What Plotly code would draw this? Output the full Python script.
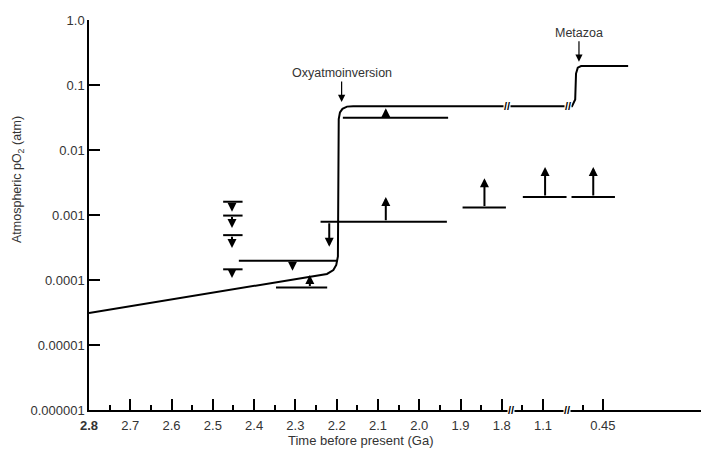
import numpy as np
import plotly.graph_objects as go

# ---------------- data ----------------
# broken time axis: anchor ages (Ga) and their axis positions
axis_anchor_ga = [2.8, 1.8, 1.1, 0.45, 0.0]
axis_anchor_pos = [0.0, 10.0, 11.0, 12.45, 15.02]

tick_ga = [2.8, 2.7, 2.6, 2.5, 2.4, 2.3, 2.2, 2.1, 2.0, 1.9, 1.8, 1.1, 0.45]
tick_text = ["<b>2.8</b>", "2.7", "2.6", "2.5", "2.4", "2.3", "2.2", "2.1", "2.0", "1.9", "1.8", "1.1", "0.45"]
minor_ga = [2.75, 2.65, 2.55, 2.45, 2.35, 2.25, 2.15, 2.05, 1.95, 1.85, 1.45, 0.67]

y_tickvals = [1.0, 0.1, 0.01, 0.001, 0.0001, 0.00001, 0.000001]
y_ticktext = ["1.0", "0.1", "0.01", "0.001", "0.0001", "0.00001", "0.000001"]

# main atmospheric O2 curve
curve_ga = [2.80, 2.2235, 2.208, 2.201, 2.197, 2.196, 2.195, 2.192, 2.186, 2.175, 2.16,
            0.786, 0.751, 0.742, 0.723, 0.687, 0.343]
curve_po2 = [3.1e-5, 1.24e-4, 1.42e-4, 1.7e-4, 2.3e-4, 1e-3, 0.03, 0.038, 0.043, 0.0465, 0.047,
             0.047, 0.06, 0.15, 0.185, 0.196, 0.196]

# constraint bars
seg_start = [2.475, 2.475, 2.475, 2.475, 2.437, 2.347, 2.239, 2.185, 1.895, 1.443, 0.791]
seg_end = [2.428, 2.428, 2.428, 2.428, 2.197, 2.223, 1.933, 1.930, 1.73, 0.845, 0.399]
seg_po2 = [1.6e-3, 9.8e-4, 4.9e-4, 1.46e-4, 1.98e-4, 7.7e-5, 7.9e-4, 0.0314, 1.3e-3, 1.9e-3, 1.9e-3]

# limit arrows (from bar value to tip value)
arrow_ga = [2.4536, 2.4536, 2.4536, 2.4536, 2.307, 2.218, 2.265, 2.081, 2.081, 1.842, 1.078, 0.555]
arrow_from = [1.6e-3, 9.8e-4, 4.9e-4, 1.46e-4, 1.98e-4, 7.9e-4, 7.7e-5, 7.9e-4, 0.0314, 1.3e-3, 1.9e-3, 1.9e-3]
arrow_to = [1.12e-3, 6.3e-4, 3.1e-4, 1.07e-4, 1.39e-4, 3.25e-4, 1.19e-4, 1.9e-3, 0.044, 3.67e-3, 5.5e-3, 5.5e-3]

# event labels
event_text = ["Oxyatmoinversion", "Metazoa"]
event_ga = [2.188, 0.71]
event_po2 = [0.055, 0.228]

# break marks (Ga)
curve_break_ga = [1.709, 0.831]
axis_break_ga = [1.646, 0.84]


def pos(ga):
    ga = np.atleast_1d(np.asarray(ga, float))
    return np.interp(-ga, [-g for g in axis_anchor_ga], axis_anchor_pos)


FONT = "Liberation Sans, Arial, sans-serif"
TXT = "#333333"

fig = go.Figure()

# constraint bars
sx, sy = [], []
for a, b, v in zip(seg_start, seg_end, seg_po2):
    sx += [float(pos(a)[0]), float(pos(b)[0]), None]
    sy += [v, v, None]
fig.add_trace(go.Scatter(x=sx, y=sy, mode="lines", line=dict(color="black", width=2),
                         hoverinfo="skip", showlegend=False))

# curve
fig.add_trace(go.Scatter(x=pos(curve_ga), y=curve_po2, mode="lines",
                         line=dict(color="black", width=2), showlegend=False))

annotations = []
for g, f, t in zip(arrow_ga, arrow_from, arrow_to):
    p = float(pos(g)[0])
    annotations.append(dict(x=p, y=np.log10(t), ax=p, ay=np.log10(f), xref="x", yref="y",
                            axref="x", ayref="y", text="", showarrow=True, arrowhead=2,
                            arrowsize=0.9, arrowwidth=2, arrowcolor="black"))

for txt, g, v in zip(event_text, event_ga, event_po2):
    annotations.append(dict(x=float(pos(g)[0]), y=np.log10(v), xref="x", yref="y", text=txt,
                            showarrow=True, arrowhead=2, arrowsize=1.2, arrowwidth=1.2,
                            arrowcolor="black", ax=0, ay=-29,
                            font=dict(family=FONT, size=12.5, color=TXT)))

for g in curve_break_ga:
    annotations.append(dict(x=float(pos(g)[0]), y=np.log10(0.047), xref="x", yref="y",
                            text="<b>//</b>", showarrow=False, bgcolor="white", borderpad=0,
                            font=dict(family=FONT, size=11, color="black")))
for g in axis_break_ga:
    annotations.append(dict(x=float(pos(g)[0]), y=-6, xref="x", yref="y",
                            text="<b>//</b>", showarrow=False, bgcolor="white", borderpad=0,
                            font=dict(family=FONT, size=11, color="black")))

annotations.append(dict(x=(360 - 89) / 620, y=-(440 - 410) / 390, xref="paper", yref="paper",
                        xanchor="center", yanchor="middle",
                        text="Time before present (Ga)", showarrow=False,
                        font=dict(family=FONT, size=13, color=TXT)))
annotations.append(dict(x=(18 - 89) / 620, y=(410 - 180) / 390, xref="paper", yref="paper",
                        xanchor="center", yanchor="middle",
                        text="Atmospheric pO<sub>2</sub> (atm)", showarrow=False, textangle=-90,
                        font=dict(family=FONT, size=12.5, color=TXT)))

# the page body adds an 8px offset, so the figure is sized/margined to compensate
fig.update_layout(
    width=701, height=447,
    margin=dict(l=81, r=0, t=12, b=45),
    paper_bgcolor="white", plot_bgcolor="white",
    showlegend=False,
    annotations=annotations,
    xaxis=dict(range=[0, 15.02], automargin=False, showgrid=False, zeroline=False, showline=True,
               linecolor="black", linewidth=1.5, ticks="inside", ticklen=11, tickwidth=1.5,
               tickcolor="black", tickvals=list(pos(tick_ga)), ticktext=tick_text,
               tickfont=dict(family=FONT, size=13, color=TXT), ticklabelstandoff=3,
               minor=dict(tickvals=list(pos(minor_ga)), ticks="inside", ticklen=5,
                          tickwidth=1.5, tickcolor="black", showgrid=False)),
    yaxis=dict(type="log", range=[-6, 0], automargin=False, showgrid=False, zeroline=False,
               showline=True, linecolor="black", linewidth=1.5, ticks="inside", ticklen=11,
               tickwidth=1.5, tickcolor="black", tickvals=y_tickvals, ticktext=y_ticktext,
               tickfont=dict(family=FONT, size=13, color=TXT), ticklabelstandoff=0),
)

fig.write_html("out.html")
